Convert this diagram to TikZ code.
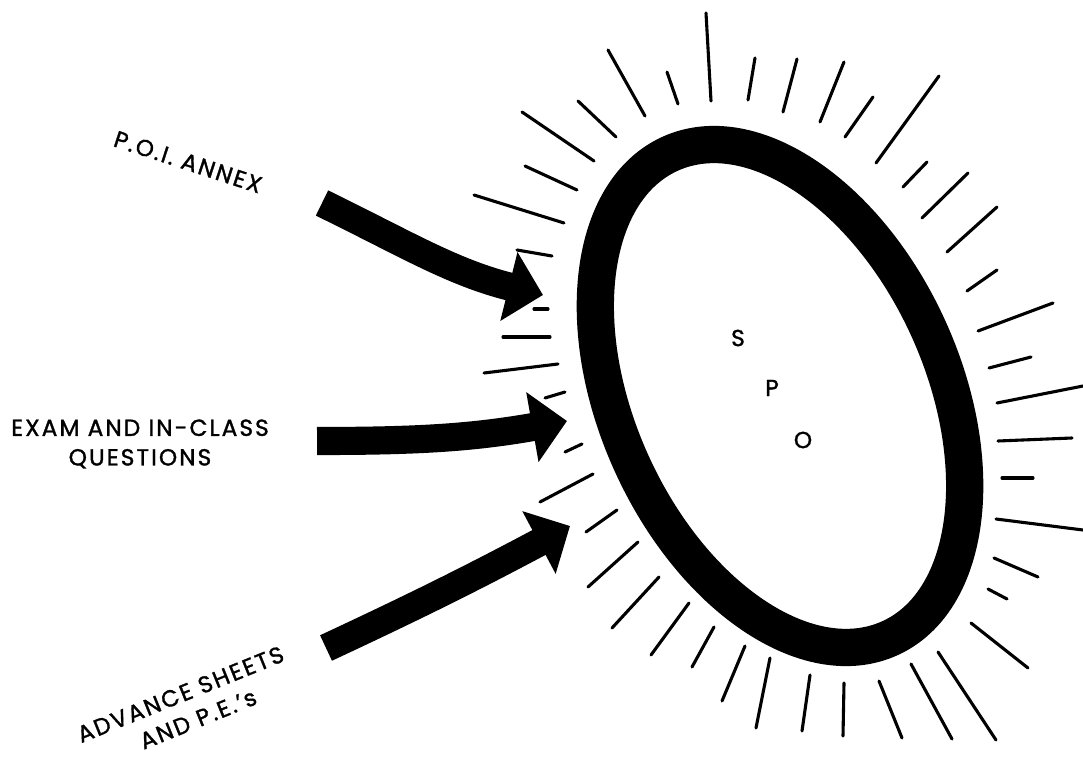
\documentclass[tikz,border=0pt]{standalone}
\usepackage{fontspec}
\usepackage{tikz}
\usetikzlibrary{arrows.meta}
\newfontfamily\lblfont{Poppins}[LetterSpace=9, FakeBold=1.4]

\begin{document}
\begin{tikzpicture}[
  x=0.025cm, y=0.025cm,
  lbl/.style={font=\lblfont\fontsize{16.5}{21}\selectfont, align=center, inner sep=0pt},
  ray/.style={line width=2.2pt, line cap=round},
  ring/.style={line width=26.5pt},
  feed/.style={line width=20pt, -{Triangle[length=25pt, width=49pt]}},
]
  \useasboundingbox (0,0) rectangle (1083,-760);

  % Rays round the ring
  \foreach \xa/\ya/\xb/\yb in {
      522/112/594/161, 578/101/616/137, 608/50/645/116, 667/72/678/104,
      706/13/711/101, 755/58/748/100, 797/59/783/112, 844/62/820/122,
      873/97/845/137, 939/76/876/163, 927/162/903/187, 968/173/922/218,
      997/207/947/252, 997/270/967/291, 1053/303/978/331, 1031/357/989/368,
      997/403/1083/386, 998/441/1072/438, 1002/478/1033/478, 996/519/1083/530,
      994/558/1038/577, 988/589/1007/599, 971/623/1028/668, 938/652/996/740,
      911/664/952/739, 879/681/902/738, 844/683/843/736, 810/675/802/731,
      770/658/756/728, 745/646/722/701, 714/627/692/667, 689/603/651/655,
      659/577/612/628, 638/542/588/587, 617/510/586/532, 593/474/540/502,
      582/444/565/452, 565/392/545/398, 558/364/484/373, 550/337/503/337,
      548/309/534/309, 552/256/517/250, 564/223/474/195, 577/190/525/166}
    \draw[ray] (\xa,-\ya) -- (\xb,-\yb);

  % Ring
  \draw[ring] (780,-396) ellipse [x radius=266, y radius=163, rotate=-65.6];
  \node[lbl] (s) at (738,-338) {S};
  \node[lbl] (p) at (772,-388) {P};
  \node[lbl] (o) at (803,-440) {O};

  % Labels
  \node[lbl, rotate=-18] (poi) at (188,-162) {P.O.I. ANNEX};
  \node[lbl] (exam) at (140,-444) {EXAM AND IN-CLASS\\QUESTIONS};
  \node[lbl, rotate=22] (advance) at (186,-708) {ADVANCE SHEETS\\\hspace{10pt}AND P.E.’s};

  % Arrows
  \coordinate (poitail) at (322,-203);
  \coordinate (poitip) at (543,-295);
  \coordinate (examtail) at (317,-441);
  \coordinate (examtip) at (567,-421);
  \coordinate (advtail) at (326,-648);
  \coordinate (advtip) at (570,-526);
  \draw[feed] (poitail) to[out=-26, in=166] (poitip);
  \draw[feed] (examtail) to[out=0, in=190] (examtip);
  \draw[feed] (advtail) to[out=25, in=208] (advtip);
\end{tikzpicture}
\end{document}
